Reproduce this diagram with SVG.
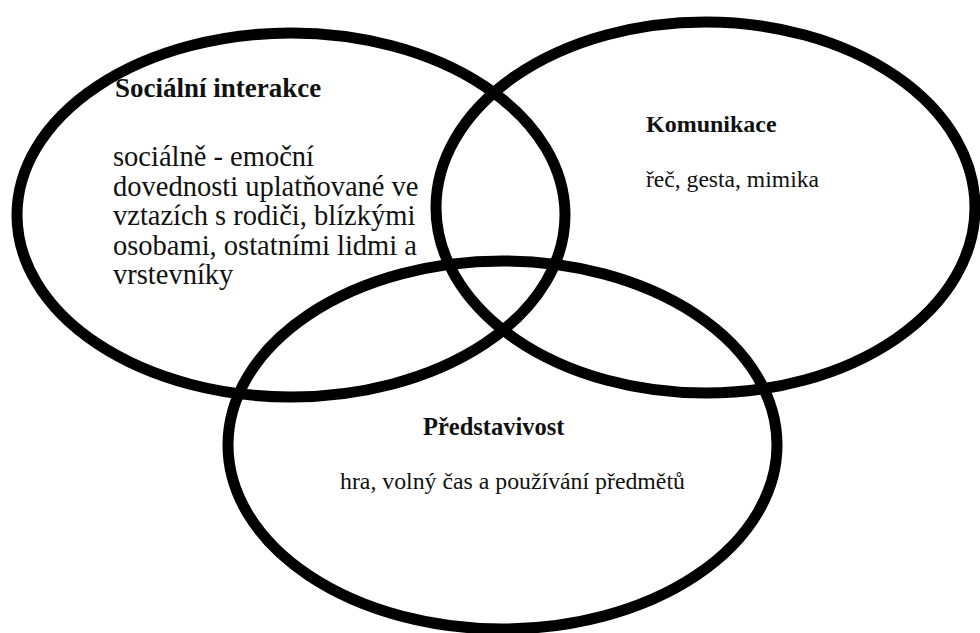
<svg xmlns="http://www.w3.org/2000/svg" width="980" height="633" viewBox="0 0 980 633">
<style>
.ring{fill:none;stroke:#000;stroke-width:11}
.t{font-family:"Liberation Serif","Times New Roman",Tinos,"Nimbus Roman","DejaVu Serif",serif;fill:#111}
.b{font-weight:bold}
</style>
<rect width="980" height="633" fill="#fff"/>
<g id="node-social">
<ellipse class="ring" cx="291" cy="215" rx="274" ry="182"/>
<text class="t b" x="115" y="97" font-size="27">Sociální interakce</text>
<text class="t" font-size="28.5"><tspan x="113" y="166">sociálně - emoční</tspan><tspan x="113" y="195.6">dovednosti uplatňované ve</tspan><tspan x="113" y="225.2">vztazích s rodiči, blízkými</tspan><tspan x="113" y="254.8">osobami, ostatními lidmi a</tspan><tspan x="113" y="284.4">vrstevníky</tspan></text>
</g>
<g id="node-komunikace">
<ellipse class="ring" cx="705.5" cy="207.5" rx="269.5" ry="185.5"/>
<text class="t b" x="646" y="131.5" font-size="24">Komunikace</text>
<text class="t" x="646" y="186.5" font-size="23.6">řeč, gesta, mimika</text>
</g>
<g id="node-predstavivost">
<ellipse class="ring" cx="502.5" cy="445" rx="274.5" ry="184"/>
<text class="t b" x="423" y="435" font-size="24.5">Představivost</text>
<text class="t" x="340" y="489" font-size="23.8">hra, volný čas a používání předmětů</text>
</g>
<g id="connectors"></g>
</svg>
